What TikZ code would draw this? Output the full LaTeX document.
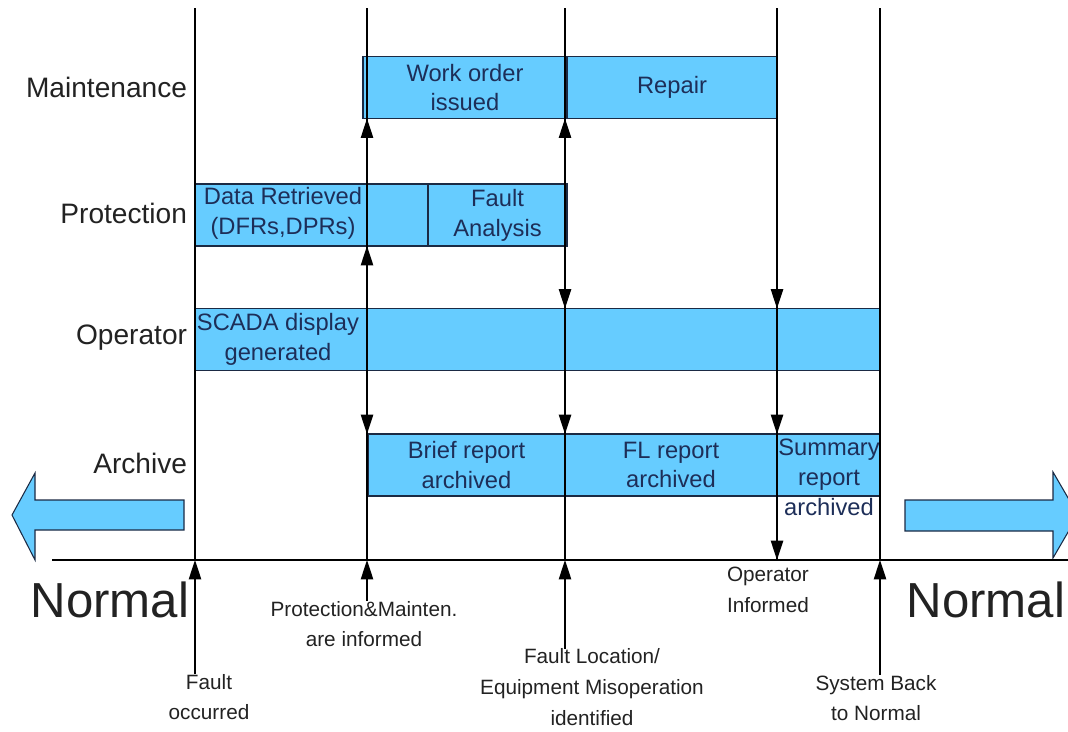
\documentclass[tikz,border=0pt]{standalone}
\usepackage{fontspec}
\setmainfont{Liberation Sans}
\usetikzlibrary{arrows.meta}
\definecolor{SkyFill}{HTML}{66CCFF}
\definecolor{BarEdge}{HTML}{1B2A44}
\definecolor{BarText}{HTML}{1D2E58}
\definecolor{InkGray}{HTML}{222222}

\begin{document}
\begin{tikzpicture}[x=0.02cm,y=-0.02cm,>={Triangle[width=7pt,length=11pt]},
  every node/.style={align=center,inner sep=0pt,outer sep=0pt},
  bar/.style={draw=BarEdge,line width=0.8pt,fill=SkyFill,text=BarText,minimum height=1.24cm,font=\fontsize{13.5}{17}\selectfont},
  bartext/.style={text=BarText,font=\fontsize{13.5}{17}\selectfont},
  rowlabel/.style={anchor=east,text=InkGray,font=\fontsize{16}{19}\selectfont},
  eventlabel/.style={text=InkGray,font=\fontsize{11.8}{17.5}\selectfont},
  bigword/.style={text=InkGray,font=\fontsize{28}{32}\selectfont},
  tline/.style={line width=0.8pt,black},
  flow/.style={->,line width=0.8pt,black},
  blockarrow/.style={draw=BarEdge,fill=SkyFill,line width=0.6pt}]
  \clip (0,0) rectangle (1068,731);
  % row names
  \foreach \y/\name in {87/Maintenance,213/Protection,338/Operator,463/Archive}{
    \node[rowlabel] (row\name) at (187,\y) {\name};
  }
  % activity bars
  \node[bar,minimum width=4.08cm] (wo) at (465,87.5) {Work order\\issued};
  \node[bar,minimum width=4.20cm] (rep) at (672,87.5) {Repair};
  \node[bar,minimum width=4.66cm] (dr) at (311.5,215) {};
  \node[bar,minimum width=2.78cm] (fa) at (497.5,215) {Fault\\Analysis};
  \node[bar,minimum width=13.70cm] (scada) at (537.5,339.5) {};
  \node[bar,minimum width=3.94cm] (br) at (466.5,465) {Brief report\\archived};
  \node[bar,minimum width=4.24cm] (flr) at (671,465) {FL report\\archived};
  \node[bar,minimum width=2.06cm] (sum) at (828.5,465) {};
  \node[bartext] (drtxt) at (283,213) {Data Retrieved\\(DFRs,DPRs)};
  \node[bartext] (scadatxt) at (278,339) {SCADA display\\generated};
  \node[bartext] (sumtxt) at (829,477) {Summary\\report\\archived};
  % normal-state arrows and time axis
  \draw[blockarrow] (184,500) -- (35,500) -- (35,473) -- (12,515) -- (35,560) -- (35,530) -- (184,530) -- cycle;
  \draw[blockarrow] (905,500) -- (1053,500) -- (1053,472) -- (1078,515) -- (1053,558) -- (1053,531) -- (905,531) -- cycle;
  \coordinate (axl) at (52,560);
  \coordinate (axr) at (1068,560);
  \draw[tline] (axl) -- (axr);
  \node[bigword] (normall) at (110,600) {Normal};
  \node[bigword] (normalr) at (986,600) {Normal};
  % time lines
  \foreach \n/\x in {1/195,2/367,3/565,4/777,5/880}{
    \coordinate (t\n) at (\x,8);
    \coordinate (b\n) at (\x,560);
    \draw[tline] (t\n) -- (b\n);
  }
  \draw[flow] (t2 |- dr.north) -- (t2 |- wo.south);
  \draw[flow] (t2 |- scada.north) -- (t2 |- dr.south);
  \draw[flow] (t2 |- scada.south) -- (t2 |- br.north);
  \draw[flow] (t3 |- fa.north) -- (t3 |- wo.south);
  \draw[flow] (t3 |- fa.south) -- (t3 |- scada.north);
  \draw[flow] (t3 |- scada.south) -- (t3 |- br.north);
  \draw[flow] (t4 |- rep.south) -- (t4 |- scada.north);
  \draw[flow] (t4 |- scada.south) -- (t4 |- sum.north);
  \draw[flow] (t4 |- sum.south) -- (b4);
  % events
  \node[eventlabel] (fo) at (209,697) {Fault\\occurred};
  \node[eventlabel] (pm) at (364,624) {Protection\&Mainten.\\are informed};
  \node[eventlabel] (flid) at (592,687) {Fault Location/\\Equipment Misoperation\\identified};
  \node[eventlabel,align=left,anchor=west] (oi) at (727,590) {Operator\\Informed};
  \node[eventlabel] (sb) at (876,698) {System Back\\to Normal};
  \draw[flow] (t1 |- fo.north) -- (b1);
  \draw[flow] (t2 |- pm.north) -- (b2);
  \draw[flow] (t3 |- flid.north) -- (b3);
  \draw[flow] (t5 |- sb.north) -- (b5);
\end{tikzpicture}
\end{document}
